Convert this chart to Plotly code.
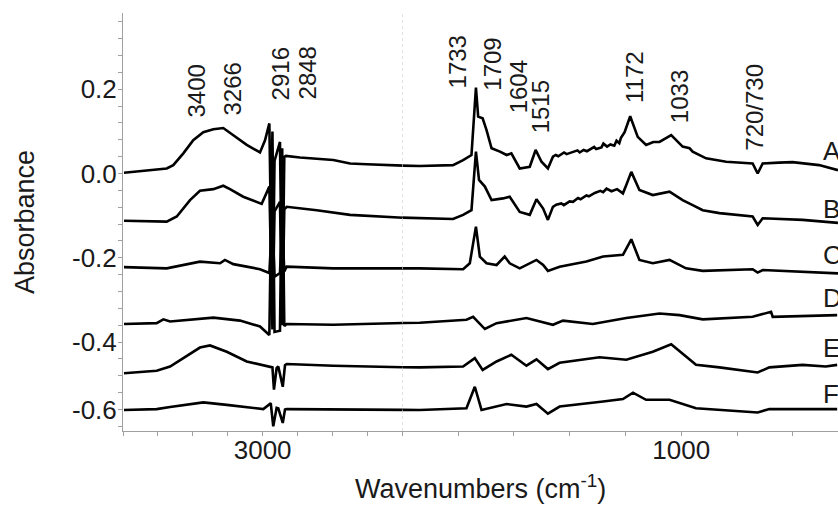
import plotly.graph_objects as go

# ---------------- data (wavenumber cm-1, absorbance) ----------------
wn_A = [3993, 3687, 3640, 3568, 3497, 3425, 3353, 3282, 3210, 3114, 3019, 2983, 2952, 2930, 2915, 2876, 2860,
        2845, 2833, 2733, 2494, 2374, 2255, 1937, 1818, 1782, 1752, 1736, 1728, 1712, 1698, 1680, 1650, 1626,
        1609, 1579, 1543, 1522, 1501, 1478, 1460, 1450, 1441, 1420, 1411, 1398, 1372, 1364, 1350, 1338, 1312,
        1305, 1286, 1279, 1266, 1254, 1240, 1232, 1222, 1216, 1203, 1183, 1156, 1126, 1100, 1078, 1036, 995, 970,
        959, 940, 911, 839, 744, 726, 708, 650, 601, 506, 438]
ab_A = [0.002, 0.012, 0.020, 0.048, 0.079, 0.098, 0.105, 0.108, 0.091, 0.068, 0.050, 0.079, 0.119, -0.36, 0.030,
        0.075, -0.35, 0.040, 0.042, 0.038, 0.032, 0.024, 0.022, 0.018, 0.020, 0.032, 0.044, 0.204, 0.135, 0.131,
        0.103, 0.060, 0.052, 0.044, 0.048, 0.012, 0.016, 0.056, 0.028, 0.012, 0.040, 0.044, 0.041, 0.050, 0.046,
        0.049, 0.055, 0.050, 0.056, 0.053, 0.063, 0.058, 0.062, 0.071, 0.064, 0.069, 0.066, 0.078, 0.072, 0.085,
        0.098, 0.136, 0.087, 0.068, 0.075, 0.075, 0.091, 0.064, 0.060, 0.052, 0.046, 0.036, 0.028, 0.024, 0.000,
        0.024, 0.026, 0.027, 0.020, 0.008]

wn_B = [3993, 3687, 3615, 3520, 3449, 3353, 3282, 3234, 3139, 3007, 2952, 2930, 2915, 2876, 2860, 2845, 2828,
        2613, 2374, 1937, 1818, 1782, 1752, 1736, 1725, 1704, 1680, 1639, 1615, 1579, 1543, 1519, 1495, 1478,
        1460, 1448, 1430, 1421, 1400, 1388, 1370, 1361, 1340, 1331, 1310, 1290, 1280, 1268, 1250, 1230, 1209,
        1197, 1179, 1150, 1102, 1042, 995, 959, 923, 863, 744, 726, 708, 565, 438]
ab_B = [-0.112, -0.114, -0.102, -0.063, -0.041, -0.037, -0.029, -0.037, -0.055, -0.072, -0.031, -0.37, -0.090,
        -0.067, -0.36, -0.085, -0.079, -0.087, -0.098, -0.106, -0.108, -0.098, -0.087, 0.052, -0.015, -0.031,
        -0.063, -0.059, -0.055, -0.091, -0.098, -0.061, -0.083, -0.110, -0.079, -0.074, -0.071, -0.075, -0.066,
        -0.067, -0.058, -0.061, -0.052, -0.054, -0.046, -0.041, -0.044, -0.036, -0.042, -0.037, -0.047, -0.027,
        0.004, -0.039, -0.051, -0.043, -0.063, -0.075, -0.087, -0.094, -0.102, -0.122, -0.106, -0.110, -0.117]

wn_C = [3993, 3687, 3449, 3305, 3270, 3210, 3019, 2971, 2952, 2930, 2915, 2876, 2860, 2845, 2828, 2494, 1937,
        1782, 1758, 1736, 1722, 1698, 1662, 1633, 1615, 1579, 1519, 1495, 1478, 1436, 1340, 1280, 1209, 1179,
        1150, 1102, 1042, 983, 923, 744, 726, 708, 565, 438]
ab_C = [-0.222, -0.225, -0.209, -0.213, -0.205, -0.215, -0.227, -0.233, -0.236, -0.10, -0.245, -0.236, -0.12,
        -0.232, -0.221, -0.225, -0.225, -0.227, -0.213, -0.126, -0.197, -0.213, -0.217, -0.197, -0.213, -0.225,
        -0.205, -0.217, -0.231, -0.221, -0.209, -0.197, -0.193, -0.156, -0.205, -0.213, -0.205, -0.225, -0.231,
        -0.227, -0.235, -0.229, -0.233, -0.237]

wn_D = [3993, 3759, 3711, 3663, 3353, 3162, 3019, 2952, 2930, 2915, 2876, 2860, 2845, 2828, 2494, 1937, 1770,
        1746, 1704, 1662, 1555, 1460, 1424, 1317, 1197, 1078, 1006, 923, 744, 678, 672, 441]
ab_D = [-0.357, -0.355, -0.346, -0.351, -0.342, -0.349, -0.363, -0.383, 0.10, -0.376, -0.373, 0.06, -0.362,
        -0.357, -0.359, -0.354, -0.347, -0.340, -0.369, -0.355, -0.343, -0.359, -0.349, -0.357, -0.343, -0.332,
        -0.336, -0.346, -0.340, -0.328, -0.340, -0.336]

wn_E = [3993, 3759, 3663, 3544, 3449, 3377, 3257, 3114, 2995, 2930, 2919, 2900, 2888, 2856, 2840, 2828, 2494,
        1937, 1782, 1740, 1712, 1662, 1609, 1555, 1519, 1478, 1436, 1293, 1197, 1102, 1036, 983, 947, 863, 726,
        684, 565, 482, 441]
ab_E = [-0.474, -0.468, -0.458, -0.434, -0.413, -0.408, -0.423, -0.446, -0.454, -0.460, -0.513, -0.462, -0.458,
        -0.506, -0.455, -0.452, -0.456, -0.460, -0.458, -0.438, -0.466, -0.446, -0.430, -0.456, -0.441, -0.464,
        -0.449, -0.436, -0.442, -0.423, -0.405, -0.434, -0.454, -0.460, -0.472, -0.460, -0.454, -0.458, -0.454]

wn_F = [3993, 3759, 3663, 3425, 3257, 2995, 2942, 2924, 2900, 2888, 2856, 2840, 2828, 1937, 1770, 1740, 1716,
        1626, 1555, 1519, 1478, 1436, 1280, 1209, 1173, 1126, 1042, 947, 726, 684, 441]
ab_F = [-0.561, -0.559, -0.554, -0.543, -0.549, -0.559, -0.545, -0.600, -0.556, -0.557, -0.592, -0.560, -0.559,
        -0.561, -0.557, -0.506, -0.561, -0.547, -0.553, -0.547, -0.570, -0.553, -0.541, -0.535, -0.520, -0.537,
        -0.537, -0.557, -0.567, -0.559, -0.559]

series = [("A", wn_A, ab_A), ("B", wn_B, ab_B), ("C", wn_C, ab_C),
          ("D", wn_D, ab_D), ("E", wn_E, ab_E), ("F", wn_F, ab_F)]

peak_labels = ["3400", "3266", "2916", "2848", "1733", "1709", "1604", "1515", "1172", "1033", "720/730"]
y_tick_values = [0.2, 0.0, -0.2, -0.4, -0.56]
y_tick_text = ["0.2", "0.0", "-0.2", "-0.4", "-0.6"]

# ---------------- layout helpers (positions of text) ----------------
peak_label_pos = [(3477, 0.127), (3219, 0.132), (2876, 0.170), (2682, 0.170), (1801, 0.198), (1675, 0.193),
                  (1582, 0.139), (1504, 0.091), (1167, 0.162), (1006, 0.115), (738, 0.049)]
letter_pos_y = [0.054, -0.083, -0.194, -0.295, -0.413, -0.524]

FONT = "Liberation Sans Narrow, Arial Narrow, Liberation Sans, Arial, sans-serif"
TXT = "#1a1a1a"
AX = "#a0a0a0"
BREAK = 2000

fig = go.Figure()
for name, wn, ab in series:
    up_idx = [i for i, w in enumerate(wn) if w >= BREAK]
    lo_idx = [i for i, w in enumerate(wn) if w <= BREAK]
    up_idx = up_idx + [up_idx[-1] + 1]
    lo_idx = [lo_idx[0] - 1] + lo_idx
    fig.add_trace(go.Scatter(x=[wn[i] for i in up_idx], y=[ab[i] for i in up_idx], xaxis="x", yaxis="y",
                             mode="lines", line=dict(color="black", width=2.6), showlegend=False, name=name))
    fig.add_trace(go.Scatter(x=[wn[i] for i in lo_idx], y=[ab[i] for i in lo_idx], xaxis="x2", yaxis="y",
                             mode="lines", line=dict(color="black", width=2.6), showlegend=False, name=name))

split = 279.3 / 715.0
axis_common = dict(showline=True, linecolor=AX, linewidth=1, ticks="outside", ticklen=4, tickcolor=AX,
                   showgrid=False, zeroline=False, tickfont=dict(family=FONT, size=26, color=TXT))
fig.update_layout(
    width=838, height=509,
    margin=dict(l=123, r=0, t=13, b=78),
    plot_bgcolor="white", paper_bgcolor="white",
    xaxis=dict(domain=[0, split], range=[4000, BREAK], tickvals=[3000], ticktext=["3000"], ticklabelstandoff=-8,
               minor=dict(dtick=250, ticklen=4, tickcolor=AX, ticks="outside"), anchor="y", **axis_common),
    xaxis2=dict(domain=[split, 1], range=[BREAK, 438], tickvals=[1000], ticktext=["1000"], ticklabelstandoff=-8,
                minor=dict(dtick=200, ticklen=4, tickcolor=AX, ticks="outside"), anchor="y", **axis_common),
    yaxis=dict(range=[-0.611, 0.381], tickvals=y_tick_values, ticktext=y_tick_text, ticklabelstandoff=-4,
               minor=dict(dtick=0.04, tick0=0, ticklen=4, tickcolor=AX, ticks="outside"), **axis_common),
)

fig.add_shape(type="line", xref="x2", yref="paper", x0=BREAK, x1=BREAK, y0=0, y1=1,
              line=dict(color="#c8c8c8", width=1, dash="dot"))

for txt, (px, py) in zip(peak_labels, peak_label_pos):
    fig.add_annotation(x=px, y=py, xref="x" if px > BREAK else "x2", yref="y", text=txt, textangle=-90,
                       showarrow=False, xanchor="center", yanchor="bottom",
                       font=dict(family=FONT, size=24, color=TXT))

for (name, _, _), ly in zip(series, letter_pos_y):
    fig.add_annotation(x=498, y=ly, xref="x2", yref="y", text=name, showarrow=False, xanchor="left",
                       yanchor="middle", font=dict(family=FONT, size=26, color=TXT))

fig.add_annotation(x=0.5, y=-0.135, xref="paper", yref="paper", text="Wavenumbers (cm<sup>-1</sup>)",
                   showarrow=False, xanchor="center", yanchor="middle", font=dict(family=FONT, size=27, color=TXT))
fig.add_annotation(x=-0.137, y=0.5, xref="paper", yref="paper", text="Absorbance", textangle=-90,
                   showarrow=False, xanchor="center", yanchor="middle", font=dict(family=FONT, size=27, color=TXT))

fig.write_html("out.html")
